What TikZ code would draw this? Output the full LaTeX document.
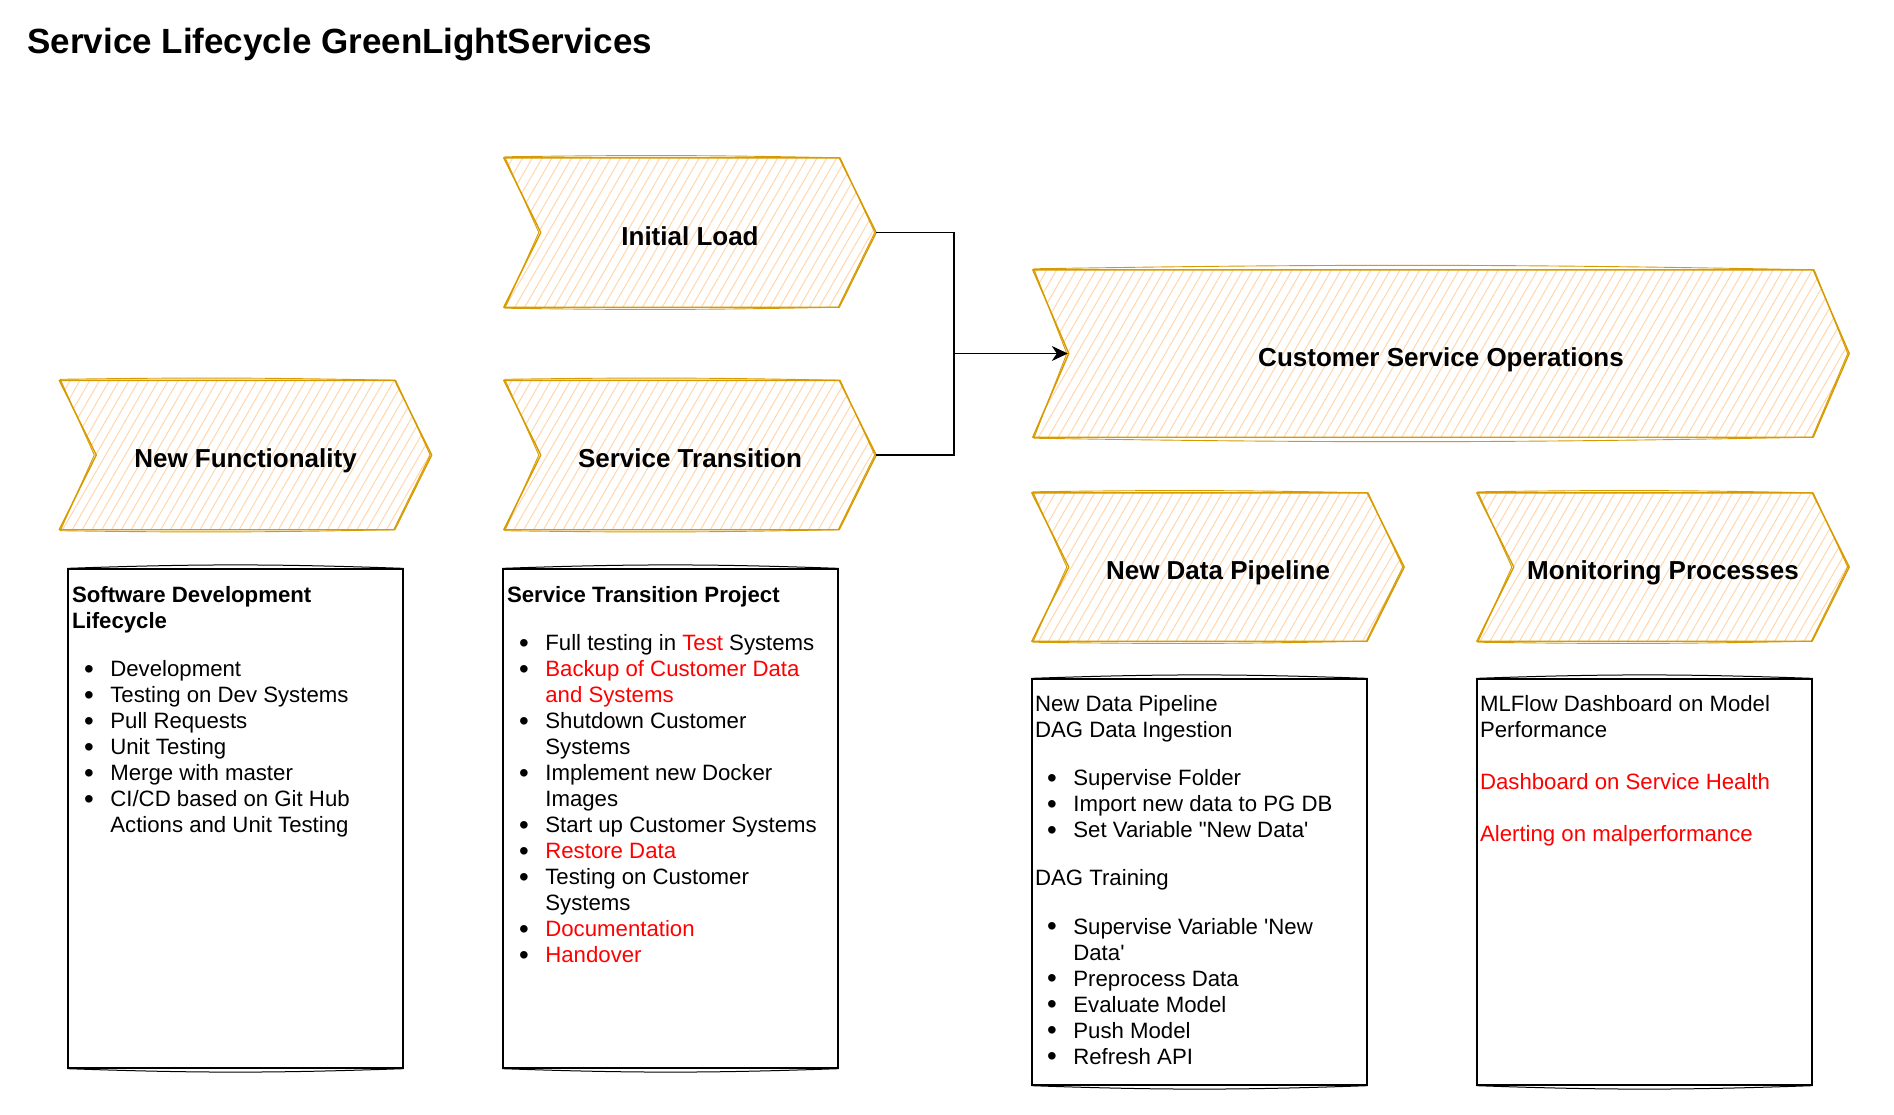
\documentclass[tikz,border=0pt]{standalone}
\usepackage{fontspec}
\usepackage{graphicx}
\setmainfont{Liberation Sans}
\usetikzlibrary{calc,patterns.meta,arrows.meta}
\definecolor{stepline}{HTML}{D79B00}
\definecolor{stephatch}{HTML}{FFD6AD}
\newcommand\itm{\makebox[38.3pt][l]{\hspace{12pt}\raisebox{-1.8pt}{\scalebox{1.25}{\textbullet}}}}
\newcommand\cnt{\makebox[38.3pt]{}}
\newcommand\chev[2]{%
  \draw[chevline,pattern={Lines[angle=60,distance=8.5pt,line width=1pt]},pattern color=stephatch]
    (#1.north west) -- ($(#1.north east)-(#2,0)$) -- (#1.east) -- ($(#1.south east)-(#2,0)$)
    -- (#1.south west) -- ($(#1.west)+(#2,0)$) -- cycle;
  \draw[chevline,line width=0.9pt]
    ($(#1.north west)+(1,-1)$) to[bend left=1] ($(#1.north east)-(#2,0)+(1,0)$) -- ($(#1.east)+(-1.5,0)$)
    -- ($(#1.south east)-(#2,0)+(-1,0)$) to[bend left=1] ($(#1.south west)+(1,1)$) -- ($(#1.west)+(#2,0)+(-2,0)$) -- cycle;}
\begin{document}
\begin{tikzpicture}[x=1pt,y=-1pt,
  chevline/.style={draw=stepline,line width=1.4pt,line join=round},
  stepnode/.style={minimum width=372pt,minimum height=149pt,inner sep=0pt},
  steplabel/.style={anchor=base,inner sep=0pt,font=\fontsize{26}{31}\selectfont\bfseries},
  listbox/.style={draw,line width=1.3pt,minimum width=335pt,inner sep=0pt},
  boxsketch/.style={line width=1pt},
  listtext/.style={anchor=north west,inner sep=0pt,align=left,font=\fontsize{22.2}{26}\selectfont},
  link/.style={line width=1.4pt}]
\useasboundingbox (0,0) rectangle (1894,1114);
\node[anchor=base west,inner sep=0pt,font=\fontsize{35}{42}\selectfont\bfseries] (title) at (27.3,53.3) {Service Lifecycle GreenLightServices};

\node[stepnode] (il) at (690,232.5) {};
\node[stepnode] (st) at (690,455) {};
\node[stepnode] (nf) at (245.5,455) {};
\node[stepnode,minimum width=816pt,minimum height=167pt] (cso) at (1441,353.5) {};
\node[stepnode,minimum height=148pt] (ndp) at (1218,567) {};
\node[stepnode,minimum height=148pt] (mon) at (1663,567) {};
\chev{il}{37}
\chev{st}{37}
\chev{nf}{37}
\chev{cso}{36}
\chev{ndp}{37}
\chev{mon}{37}
\node[steplabel] (illbl) at ($(il)+(0,12.5)$) {Initial Load};
\node[steplabel] (stlbl) at ($(st)+(0,12.5)$) {Service Transition};
\node[steplabel] (nflbl) at ($(nf)+(0,12.5)$) {New Functionality};
\node[steplabel] (csolbl) at ($(cso)+(0,12.5)$) {Customer Service Operations};
\node[steplabel] (ndplbl) at ($(ndp)+(0,12.5)$) {New Data Pipeline};
\node[steplabel] (monlbl) at ($(mon)+(0,12.5)$) {Monitoring Processes};

\coordinate (jn) at (954,353.5);
\draw[link] (il.east) -| (jn) |- (st.east);
\draw[link,-{Stealth[length=16pt,width=15pt,inset=5pt]}] (jn) -- ($(cso.west)+(35,0)$);

\node[listbox,minimum height=499pt] (sdl) at (235.5,818.5) {};
\node[listbox,minimum height=499pt] (stp) at (670.5,818.5) {};
\node[listbox,minimum height=406pt] (pipe) at (1199.5,882) {};
\node[listbox,minimum height=406pt] (mlf) at (1644.5,882) {};
\draw[boxsketch] (sdl.north west) to[bend left=2] (sdl.north east) (sdl.south west) to[bend right=2] (sdl.south east);
\draw[boxsketch] (stp.north west) to[bend left=2] (stp.north east) (stp.south west) to[bend right=2] (stp.south east);
\draw[boxsketch] (pipe.north west) to[bend left=2] (pipe.north east) (pipe.south west) to[bend right=2] (pipe.south east);
\draw[boxsketch] (mlf.north west) to[bend left=2] (mlf.north east) (mlf.south west) to[bend right=2] (mlf.south east);

\node[listtext] (sdltxt) at ($(sdl.north west)+(4.5,15.6)$) {\strut\textbf{Software Development}\\
  \textbf{Lifecycle}\\[22pt]
  \itm Development\\
  \itm Testing on Dev Systems\\
  \itm Pull Requests\\
  \itm Unit Testing\\
  \itm Merge with master\\
  \itm CI/CD based on Git Hub\\
  \cnt Actions and Unit Testing};
\node[listtext] (stptxt) at ($(stp.north west)+(4.5,15.6)$) {\strut\textbf{Service Transition Project}\\[22pt]
  \itm Full testing in \textcolor{red}{Test} Systems\\
  \itm \textcolor{red}{Backup of Customer Data}\\
  \cnt \textcolor{red}{and Systems}\\
  \itm Shutdown Customer\\
  \cnt Systems\\
  \itm Implement new Docker\\
  \cnt Images\\
  \itm Start up Customer Systems\\
  \itm \textcolor{red}{Restore Data}\\
  \itm Testing on Customer\\
  \cnt Systems\\
  \itm \textcolor{red}{Documentation}\\
  \itm \textcolor{red}{Handover}};
\node[listtext] (pipetxt) at ($(pipe.north west)+(3.5,14.8)$) {\strut New Data Pipeline\\
  DAG Data Ingestion\\[22pt]
  \itm Supervise Folder\\
  \itm Import new data to PG DB\\
  \itm Set Variable \textquotedbl{}New Data\textquotesingle\\[22pt]
  DAG Training\\[22.5pt]
  \itm Supervise Variable \textquotesingle{}New\\
  \cnt Data\textquotesingle\\
  \itm Preprocess Data\\
  \itm Evaluate Model\\
  \itm Push Model\\
  \itm Refresh API};
\node[listtext] (mlftxt) at ($(mlf.north west)+(3.5,14.8)$) {\strut MLFlow Dashboard on Model\\
  Performance\\[26pt]
  \textcolor{red}{Dashboard on Service Health}\\[26pt]
  \textcolor{red}{Alerting on malperformance}};
\end{tikzpicture}
\end{document}
